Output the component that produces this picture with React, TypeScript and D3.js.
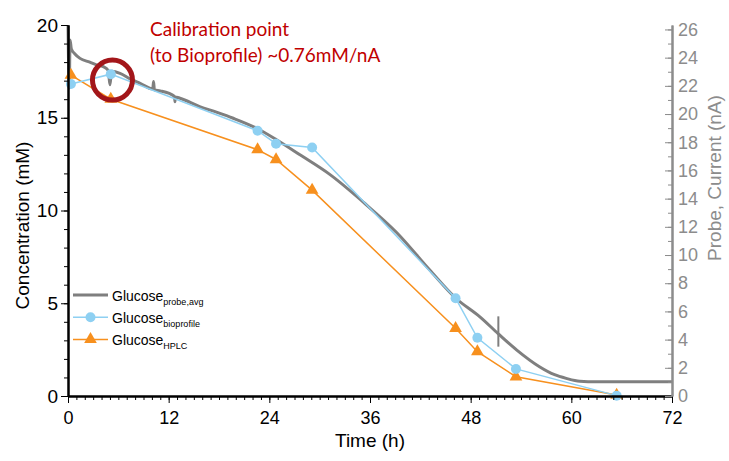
import { useRef, useEffect } from 'react';
import * as d3 from 'd3';

// probe current (nA), right axis
const probeTime = [0, 0.15, 0.25, 0.4, 0.8, 1.43, 2.6, 3.4, 4.2, 4.8, 5.0, 5.2, 6.2, 7.4, 8.6, 10.1, 10.2, 10.3, 11.0, 12.7, 12.75, 12.8, 13.35, 15.7, 17.7, 19.7, 22.5, 24.9, 27.65, 31.2, 35.2, 39.2, 43.1, 46.2, 49.1, 51.3, 53.5, 56.2, 58, 59.4, 61, 63, 72];
const probeCurrent = [26.32, 21.84, 25.26, 24.61, 24.28, 23.95, 23.68, 23.49, 23.36, 23.09, 22.07, 23.03, 22.89, 22.5, 22.18, 21.78, 22.3, 21.71, 21.64, 21.25, 20.87, 21.21, 21.12, 20.53, 20.13, 19.7, 18.99, 18.16, 17.11, 15.72, 13.75, 11.58, 8.95, 6.95, 5.61, 4.41, 3.26, 2.08, 1.51, 1.25, 1.05, 1.01, 1.01];
const probeMark = { t: 51.3, lo: 3.5, hi: 5.65 };

// offline samples (mM), left axis
const sampleTime = [0.35, 5.1, 22.6, 24.8, 29.1, 46.2, 48.8, 53.4, 65.4];
const bioConc = [16.82, 17.35, 14.3, 13.6, 13.4, 5.27, 3.14, 1.46, 0.02];
const hplcConc = [17.3, 16.0, 13.28, 12.75, 11.1, 3.65, 2.39, 1.04, 0.05];

const timeTicks = [0, 12, 24, 36, 48, 60, 72];
const concTicks = [0, 5, 10, 15, 20];
const currentTicks = d3.range(0, 27, 2);
const calibration = 0.76; // mM per nA

const GRAY = '#7f7f7f';
const BLUE = '#8ed0f2';
const ORANGE = '#f7901e';
const RED = '#a3161a';

const App = () => {
  const svgRef = useRef<SVGSVGElement>(null);

  useEffect(() => {
    if (!svgRef.current) return;
    const width = 729;
    const height = 461;
    const margin = { top: 25, right: 57, bottom: 65, left: 68 };

    const svg = d3.select(svgRef.current);
    svg.selectAll('*').remove();

    const x = d3.scaleLinear().domain([0, 72]).range([margin.left, width - margin.right]);
    const y = d3.scaleLinear().domain([0, 20]).range([height - margin.bottom, margin.top]);
    const yR = d3.scaleLinear().domain([0, 20 / calibration]).range([height - margin.bottom, margin.top]);

    const font = 'Liberation Sans, Arial, sans-serif';

    // probe line
    const probe = probeTime.map((t, i) => [t, probeCurrent[i]] as [number, number]);
    svg.append('path')
      .datum(probe)
      .attr('fill', 'none')
      .attr('stroke', GRAY)
      .attr('stroke-width', 3)
      .attr('stroke-linejoin', 'round')
      .attr('d', d3.line<[number, number]>().x(d => x(d[0])).y(d => yR(d[1])).curve(d3.curveMonotoneX));

    svg.append('line')
      .attr('x1', x(probeMark.t)).attr('x2', x(probeMark.t))
      .attr('y1', yR(probeMark.lo)).attr('y2', yR(probeMark.hi))
      .attr('stroke', GRAY).attr('stroke-width', 2);

    // HPLC
    const hplc = sampleTime.map((t, i) => [t, hplcConc[i]] as [number, number]);
    svg.append('path')
      .datum(hplc)
      .attr('fill', 'none')
      .attr('stroke', ORANGE)
      .attr('stroke-width', 1.5)
      .attr('d', d3.line<[number, number]>().x(d => x(d[0])).y(d => y(d[1])));

    // bioprofile
    const bio = sampleTime.map((t, i) => [t, bioConc[i]] as [number, number]);
    svg.append('path')
      .datum(bio)
      .attr('fill', 'none')
      .attr('stroke', BLUE)
      .attr('stroke-width', 1.5)
      .attr('d', d3.line<[number, number]>().x(d => x(d[0])).y(d => y(d[1])));

    const tri = d3.symbol().type(d3.symbolTriangle).size(70);
    svg.selectAll('.tri')
      .data(hplc)
      .join('path')
      .attr('transform', d => `translate(${x(d[0])},${y(d[1])})`)
      .attr('d', tri)
      .attr('fill', ORANGE);

    svg.selectAll('.dot')
      .data(bio)
      .join('circle')
      .attr('cx', d => x(d[0]))
      .attr('cy', d => y(d[1]))
      .attr('r', 5)
      .attr('fill', BLUE);

    // axes
    const bottom = height - margin.bottom;
    const gx = svg.append('g').attr('transform', `translate(0,${bottom})`);
    gx.call(d3.axisBottom(x).tickValues(d3.range(0, 73, 1)).tickSize(4).tickSizeOuter(0).tickFormat(() => ''));
    gx.append('g').call(d3.axisBottom(x).tickValues(timeTicks).tickSize(7).tickSizeOuter(0).tickPadding(8).tickFormat(d3.format('d')));
    gx.selectAll('.domain').attr('stroke-width', 2);
    gx.attr('color', '#000').selectAll('text').attr('font-size', 18).attr('font-family', font);

    const gy = svg.append('g').attr('transform', `translate(${margin.left},0)`);
    gy.call(d3.axisLeft(y).tickValues(d3.range(0, 21, 1)).tickSize(4).tickSizeOuter(0).tickFormat(() => ''));
    gy.append('g').call(d3.axisLeft(y).tickValues(concTicks).tickSize(7).tickSizeOuter(0).tickPadding(3).tickFormat(d3.format('d')));
    gy.selectAll('.domain').attr('stroke-width', 2);
    gy.attr('color', '#000').selectAll('text').attr('font-size', 19).attr('font-family', font);

    const gr = svg.append('g').attr('transform', `translate(${width - margin.right},0)`);
    gr.call(d3.axisRight(yR).tickValues(d3.range(0, 27, 1)).tickSize(-4).tickSizeOuter(0).tickFormat(() => ''));
    gr.append('g').call(d3.axisRight(yR).tickValues(currentTicks).tickSize(-7).tickSizeOuter(0).tickPadding(6).tickFormat(d3.format('d')));
    gr.selectAll('.domain').attr('stroke-width', 2);
    gr.attr('color', '#8c8c8c').selectAll('text').attr('font-size', 18).attr('font-family', font);

    // axis titles
    svg.append('text')
      .attr('transform', `translate(29,${(margin.top + bottom) / 2 + 15}) rotate(-90)`)
      .attr('text-anchor', 'middle')
      .attr('font-family', font).attr('font-size', 19).attr('fill', '#000')
      .text('Concentration (mM)');
    svg.append('text')
      .attr('x', (x(0) + x(72)) / 2).attr('y', 447)
      .attr('text-anchor', 'middle')
      .attr('font-family', font).attr('font-size', 19).attr('fill', '#000')
      .text('Time (h)');
    svg.append('text')
      .attr('transform', `translate(721,178) rotate(-90)`)
      .attr('text-anchor', 'middle')
      .attr('font-family', font).attr('font-size', 19).attr('fill', '#8c8c8c')
      .text('Probe, Current (nA)');

    // legend
    const legend = svg.append('g').attr('font-family', font).attr('fill', '#000');
    const rows = [
      { sub: 'probe,avg', color: GRAY, w: 3, mark: 'none' },
      { sub: 'bioprofile', color: BLUE, w: 1.5, mark: 'circle' },
      { sub: 'HPLC', color: ORANGE, w: 1.5, mark: 'tri' },
    ];
    rows.forEach((r, i) => {
      const cy = 295 + i * 22.2;
      legend.append('line').attr('x1', 73).attr('x2', 108).attr('y1', cy).attr('y2', cy)
        .attr('stroke', r.color).attr('stroke-width', r.w);
      if (r.mark === 'circle') legend.append('circle').attr('cx', 90.5).attr('cy', cy).attr('r', 5).attr('fill', r.color);
      if (r.mark === 'tri') legend.append('path').attr('transform', `translate(90.5,${cy})`).attr('d', tri).attr('fill', r.color);
      const t = legend.append('text').attr('x', 112).attr('y', cy + 6).attr('font-size', 14);
      t.append('tspan').text('Glucose');
      t.append('tspan').attr('dy', 4).attr('font-size', 9).text(r.sub);
    });

    // calibration annotation
    svg.append('circle')
      .attr('cx', x(5.3)).attr('cy', y(17.03))
      .attr('r', 20)
      .attr('fill', 'none')
      .attr('stroke', RED)
      .attr('stroke-width', 5);
    const ann = svg.append('text')
      .attr('font-family', 'Lato, "Open Sans", sans-serif')
      .attr('font-size', 19)
      .attr('fill', '#c00000');
    ann.append('tspan').attr('x', 150).attr('y', 36).text('Calibration point');
    ann.append('tspan').attr('x', 150).attr('y', 62).text('(to Bioprofile) ~0.76mM/nA');

    return () => { svg.selectAll('*').remove(); };
  }, []);

  return (
    <svg ref={svgRef} width={729} height={461}
      style={{ position: 'absolute', left: 0, top: 0, background: '#fff' }} />
  );
};

export default App;
